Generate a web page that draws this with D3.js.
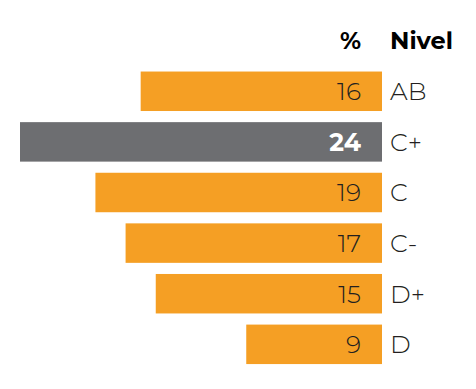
<!DOCTYPE html>
<html>
<head>
<meta charset="utf-8">
<script src="https://cdn.jsdelivr.net/npm/d3@7"></script>
<style>
  body { margin: 0; background: #fff; }
  text { font-family: Montserrat, Lato, "Open Sans", sans-serif; }
</style>
</head>
<body>
<script>
var width = 476;
var height = 389;

var levels = ["AB", "C+", "C", "C-", "D+", "D"];
var values = [16, 24, 19, 17, 15, 9];
var highlight = "C+";

var orange = "#f59f24";
var gray = "#6d6e71";

var svg = d3.select("body")
            .append("svg")
            .attr("width", width)
            .attr("height", height);

var x = d3.scaleLinear()
          .domain([0, 24])
          .range([0, 362]);

var y = d3.scaleBand()
          .domain(levels)
          .range([60.4, 375.2])
          .padding(0.22);

var barRight = 382;

var rows = svg.selectAll("g.row")
              .data(levels)
              .enter()
              .append("g")
              .attr("class", "row");

rows.append("rect")
    .attr("x", function(d, i) { return barRight - x(values[i]); })
    .attr("y", function(d) { return y(d); })
    .attr("width", function(d, i) { return x(values[i]); })
    .attr("height", y.bandwidth())
    .style("fill", function(d) { return d === highlight ? gray : orange; });

rows.append("text")
    .attr("x", 361)
    .attr("y", function(d) { return y(d) + y.bandwidth() / 2 + 9; })
    .attr("text-anchor", "end")
    .style("font-size", "25px")
    .style("font-weight", function(d) { return d === highlight ? 700 : 300; })
    .style("fill", function(d) { return d === highlight ? "#fff" : "#231f20"; })
    .text(function(d, i) { return values[i]; });

rows.append("text")
    .attr("x", 390)
    .attr("y", function(d) { return y(d) + y.bandwidth() / 2 + 9; })
    .style("font-size", "25px")
    .style("font-weight", 300)
    .style("fill", "#231f20")
    .text(function(d) { return d; });

// header
svg.append("text")
   .attr("x", 361)
   .attr("y", 49)
   .attr("text-anchor", "end")
   .style("font-size", "24px")
   .style("font-weight", 700)
   .text("%");

svg.append("text")
   .attr("x", 390)
   .attr("y", 49)
   .style("font-size", "24px")
   .style("font-weight", 700)
   .text("Nivel");
</script>
</body>
</html>
